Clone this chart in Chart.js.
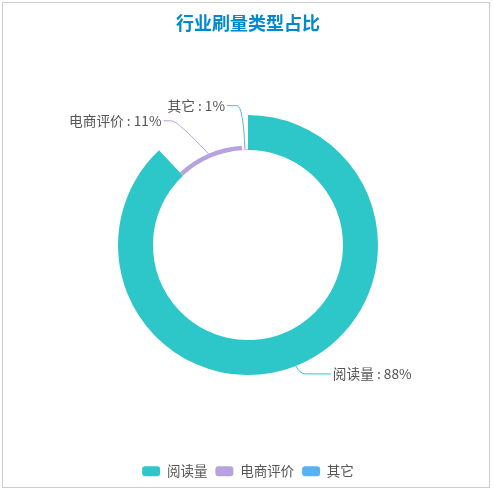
<!DOCTYPE html>
<html><head><meta charset="utf-8">
<script src="https://cdn.jsdelivr.net/npm/chart.js@4"></script>
<style>
html,body{margin:0;padding:0;background:#fff;}
#wrap{position:absolute;left:0;top:0;width:494px;height:492px;}
#frame{position:absolute;left:2px;top:2px;width:488px;height:486px;border:1px solid #ccc;box-sizing:border-box;pointer-events:none;}
</style></head>
<body>
<div id="wrap"><canvas id="c" width="494" height="492"></canvas><div id="frame"></div></div>
<script>
const titleText = '行业刷量类型占比';
const categories = ['阅读量', '电商评价', '其它'];
const values = [88, 11, 1];
const percentLabels = ['88%', '11%', '1%'];
const colors = ['#2ec7c9', '#b6a2de', '#5ab1ef'];
// label leader line style: elbow offset from arc anchor, horizontal run
const labelLines = [
  {dx: 4, dy: 8, run: 31},
  {dx: -31, dy: -33, run: -14},
  {dx: -2, dy: -44, run: -16}
];

const roseRadius = {
  id: 'roseRadius',
  afterDatasetUpdate(chart, args) {
    const meta = args.meta;
    const data = chart.data.datasets[args.index].data;
    const max = Math.max(...data);
    meta.data.forEach((arc, i) => {
      const r0 = arc.innerRadius, r = arc.outerRadius;
      arc.outerRadius = r0 + (r - r0) * data[i] / max;
    });
  }
};

const pieLabels = {
  id: 'pieLabels',
  afterDraw(chart) {
    const ctx = chart.ctx;
    const meta = chart.getDatasetMeta(0);
    ctx.save();
    meta.data.forEach((arc, i) => {
      const mid = (arc.startAngle + arc.endAngle) / 2;
      const x0 = arc.x + Math.cos(mid) * arc.outerRadius;
      const y0 = arc.y + Math.sin(mid) * arc.outerRadius;
      const L = labelLines[i];
      const x1 = x0 + L.dx, y1 = y0 + L.dy;
      const dir = Math.sign(L.run);
      const x2 = x1 + L.run;
      ctx.strokeStyle = colors[i];
      ctx.lineWidth = 1;
      ctx.beginPath();
      ctx.moveTo(x0, y0);
      ctx.quadraticCurveTo(x1, y1, x1 + dir * 6, y1);
      ctx.lineTo(x2, y1);
      ctx.stroke();
      ctx.fillStyle = '#555';
      ctx.font = '13.7px "Noto Sans CJK SC", sans-serif';
      ctx.textBaseline = 'middle';
      ctx.textAlign = dir > 0 ? 'left' : 'right';
      ctx.fillText(categories[i] + ' : ' + percentLabels[i], x2 + dir * 2, y1);
    });
    ctx.restore();
  }
};

new Chart(document.getElementById('c'), {
  type: 'doughnut',
  data: {
    labels: categories,
    datasets: [{
      data: values,
      backgroundColor: colors,
      borderWidth: 0
    }]
  },
  options: {
    responsive: false,
    animation: false,
    radius: 130,
    cutout: '73.1%',
    layout: {padding: {top: 0, bottom: 4, left: 2, right: 0}},
    plugins: {
      title: {
        display: true,
        text: titleText,
        color: '#008acd',
        font: {size: 18, weight: 'bold', family: '"Noto Sans CJK SC", sans-serif', lineHeight: 1.2},
        padding: {top: 12, bottom: 0}
      },
      legend: {
        position: 'bottom',
        labels: {
          boxWidth: 18,
          boxHeight: 10,
          useBorderRadius: true,
          borderRadius: 3,
          padding: 8,
          color: '#555',
          font: {size: 13.5, family: '"Noto Sans CJK SC", sans-serif'}
        }
      },
      tooltip: {enabled: false}
    }
  },
  plugins: [roseRadius, pieLabels]
});
</script>
</body></html>
